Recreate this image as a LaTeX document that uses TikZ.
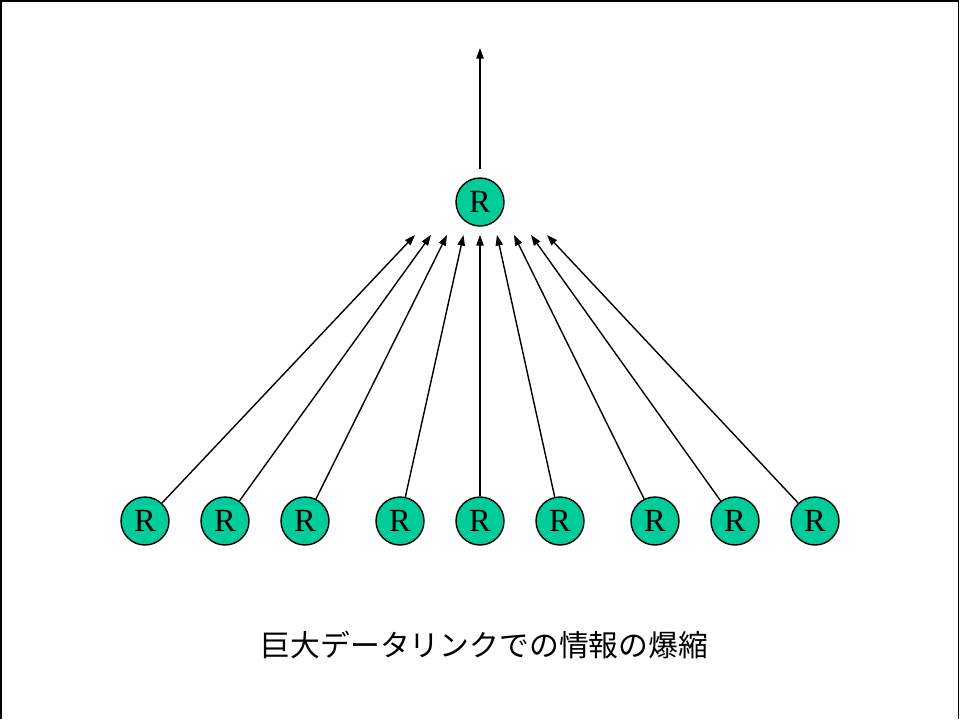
\documentclass[tikz,border=0pt]{standalone}
\usepackage{fontspec}
\setmainfont{Liberation Serif}
\newfontfamily\cjk{Noto Sans CJK JP}
\usepackage{tikz}
\usetikzlibrary{arrows.meta}
\definecolor{router}{HTML}{00CC99}
\tikzset{
  rnode/.style={circle, fill=router, draw=black, line width=1pt, minimum size=48*0.025cm, inner sep=0pt, font=\fontsize{23}{24}\selectfont},
  flow/.style={draw=black, line width=1pt, -{Triangle[length=7.5pt,width=5.2pt]}},
  frame/.style={draw=black, line width=1pt},
  caption/.style={font=\cjk\fontsize{21.2}{24}\selectfont},
}

\begin{document}
\begin{tikzpicture}[x=0.025cm, y=-0.025cm]
  \useasboundingbox (0,0) rectangle (960,719);
  \draw[frame] (1,719) -- (1,1) -- (958.5,1) -- (958.5,719);
  % top router and outgoing link
  \node[rnode] (top) at (480,202) {R};
  \coordinate (out) at (480,48);
  \draw[flow, shorten <=8*0.025cm] (top.north) -- (out);
  % bottom routers
  \foreach \x [count=\i] in {145,225,305,400,480,560,655,735,815} {
    \node[rnode] (b\i) at (\x,521) {R};
  }
  % arrow ends below the top router
  \foreach \x [count=\i] in {415,431,447,463.5,480,497,514,531,547} {
    \coordinate (t\i) at (\x,235);
    \draw[flow] (b\i) -- (t\i);
  }
  \node[caption] (cap) at (484.5,645) {巨大データリンクでの情報の爆縮};
\end{tikzpicture}
\end{document}
